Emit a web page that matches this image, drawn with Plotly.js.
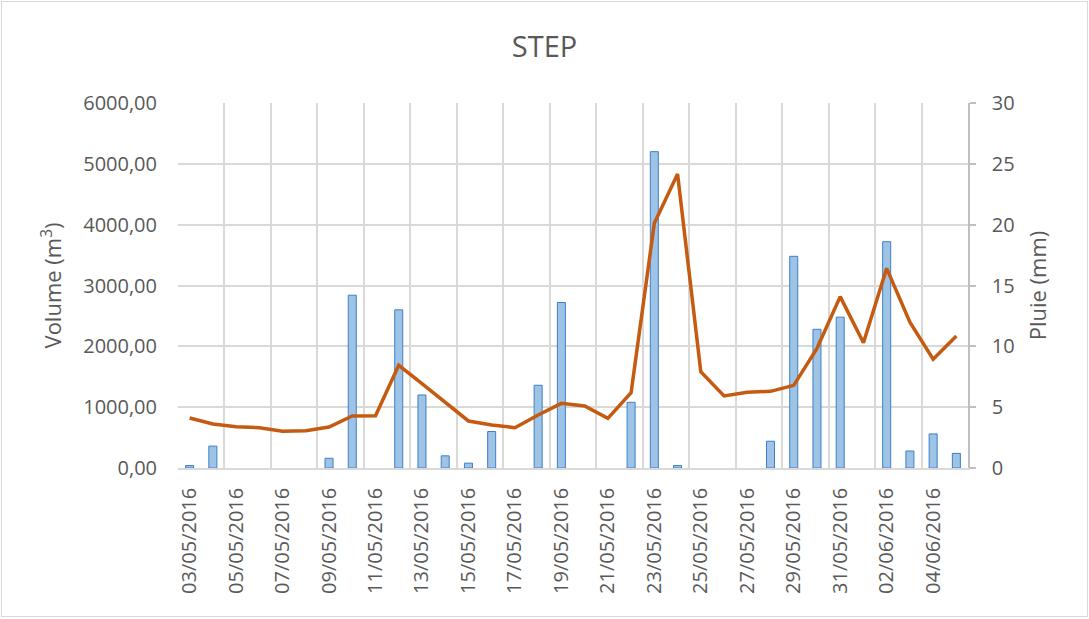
<!DOCTYPE html>
<html>
<head>
<meta charset="utf-8">
<script src="https://cdn.plot.ly/plotly-3.0.1.min.js"></script>
<style>
  html, body { margin: 0; padding: 0; background: #ffffff; }
  #wrap { position: relative; width: 1089px; height: 619px; }
  #chart { position: absolute; left: 0; top: 0; width: 1089px; height: 619px; }
  #frame { position: absolute; left: 1px; top: 1px; width: 1087px; height: 616px;
           box-sizing: border-box; border: 1.5px solid #d9d9d9; pointer-events: none; }
</style>
</head>
<body>
<div id="wrap">
  <div id="chart"></div>
  <div id="frame"></div>
</div>
<script>
// Categories (days)
const dates = [
  "03/05/2016","04/05/2016","05/05/2016","06/05/2016","07/05/2016","08/05/2016",
  "09/05/2016","10/05/2016","11/05/2016","12/05/2016","13/05/2016","14/05/2016",
  "15/05/2016","16/05/2016","17/05/2016","18/05/2016","19/05/2016","20/05/2016",
  "21/05/2016","22/05/2016","23/05/2016","24/05/2016","25/05/2016","26/05/2016",
  "27/05/2016","28/05/2016","29/05/2016","30/05/2016","31/05/2016","01/06/2016",
  "02/06/2016","03/06/2016","04/06/2016","05/06/2016"
];

// Pluie (mm) – bars, right axis
const pluie = [
  0.2, 1.8, 0, 0, 0, 0,
  0.8, 14.2, 0, 13.0, 6.0, 1.0,
  0.4, 3.0, 0, 6.8, 13.6, 0,
  0, 5.4, 26.0, 0.2, 0, 0,
  0, 2.2, 17.4, 11.4, 12.4, 0,
  18.6, 1.4, 2.8, 1.2
];

// Volume (m³) – line, left axis
const volume = [
  822, 723, 679, 663, 603, 613,
  674, 855, 860, 1688, 1386, 1080,
  773, 707, 663, 871, 1063, 1019,
  816, 1238, 4022, 4833, 1583, 1184,
  1244, 1260, 1359, 1967, 2817, 2060,
  3282, 2395, 1787, 2170
];

const textColor = "#595959";
const gridColor = "#d9d9d9";
const FONT = "Open Sans, Lato, Liberation Sans, sans-serif";

// no outline on days without rain (nothing visible, as in the source)
const barOutline = pluie.map(v => (v > 0 ? 1 : 0));

const barTrace = {
  type: "bar",
  x: dates,
  y: pluie,
  name: "Pluie (mm)",
  yaxis: "y",
  marker: { color: "#9dc3e6", line: { color: "#3f7fc4", width: barOutline } },
  hoverinfo: "x+y"
};

const lineTrace = {
  type: "scatter",
  mode: "lines",
  x: dates,
  y: volume,
  name: "Volume (m³)",
  yaxis: "y2",
  line: { color: "#c55a11", width: 3.5 },
  hoverinfo: "x+y"
};

const layout = {
  width: 1089,
  height: 619,
  paper_bgcolor: "#ffffff",
  plot_bgcolor: "#ffffff",
  margin: { l: 178, r: 121, t: 103, b: 151 },
  showlegend: false,
  separators: ",.",
  bargap: 0.655,
  font: { family: FONT, color: textColor, size: 20 },
  title: {
    text: "STEP",
    font: { family: FONT, size: 29, color: textColor },
    x: 0.5, xanchor: "center",
    yref: "container", y: 1 - 47 / 619, yanchor: "middle"
  },
  xaxis: {
    type: "category",
    tickmode: "linear",
    tick0: 0,
    dtick: 2,
    tickson: "boundaries",
    ticks: "",
    showgrid: true,
    gridcolor: gridColor,
    gridwidth: 1.5,
    showline: true,
    linecolor: gridColor,
    linewidth: 1.5,
    tickangle: -90,
    tickfont: { family: FONT, size: 20, color: textColor },
    ticklabelstandoff: 10,
    range: [-0.5, 33.5],
    fixedrange: true
  },
  yaxis: {
    side: "right",
    range: [0, 30],
    tickmode: "linear",
    tick0: 0,
    dtick: 5,
    showgrid: true,
    gridcolor: gridColor,
    gridwidth: 1.5,
    zeroline: false,
    showline: true,
    linecolor: "#bfbfbf",
    linewidth: 1.5,
    ticks: "outside",
    ticklen: 6,
    tickcolor: "#bfbfbf",
    tickwidth: 1.5,
    tickfont: { family: FONT, size: 20, color: textColor },
    ticklabelstandoff: 12,
    title: { text: "Pluie (mm)", font: { family: FONT, size: 22, color: textColor }, standoff: 17 },
    fixedrange: true
  },
  yaxis2: {
    overlaying: "y",
    side: "left",
    range: [0, 6000],
    tickmode: "linear",
    tick0: 0,
    dtick: 1000,
    tickformat: ".2f",
    showgrid: false,
    zeroline: false,
    showline: false,
    ticks: "",
    tickfont: { family: FONT, size: 20, color: textColor },
    ticklabelstandoff: 20,
    title: { text: "Volume (m<sup>3</sup>)", font: { family: FONT, size: 22, color: textColor }, standoff: 15 },
    fixedrange: true
  }
};

Plotly.newPlot("chart", [barTrace, lineTrace], layout, { displayModeBar: false, responsive: false });
</script>
</body>
</html>
